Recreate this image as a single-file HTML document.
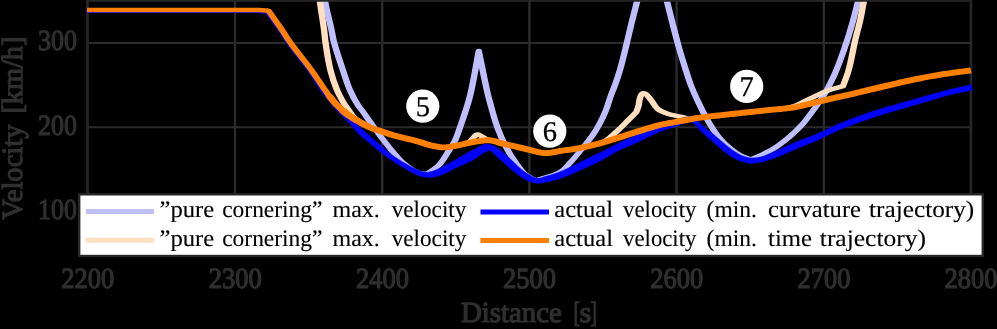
<!DOCTYPE html>
<html><head><meta charset="utf-8"><title>velocity profile</title>
<style>html,body{margin:0;padding:0;background:#000;}svg{display:block;font-family:"Liberation Serif",serif;}text{text-rendering:geometricPrecision;}</style></head><body>
<svg style="will-change:transform" width="997" height="329" viewBox="0 0 997 329">
<rect x="0" y="0" width="997" height="329" fill="#000"/>
<defs><clipPath id="pc"><rect x="86.5" y="0" width="885.6" height="256"/></clipPath></defs>
<line x1="235.0" y1="0" x2="235.0" y2="256" stroke="#2b2b2b" stroke-width="2.4"/>
<line x1="382.2" y1="0" x2="382.2" y2="256" stroke="#2b2b2b" stroke-width="2.4"/>
<line x1="529.4" y1="0" x2="529.4" y2="256" stroke="#2b2b2b" stroke-width="2.4"/>
<line x1="676.6" y1="0" x2="676.6" y2="256" stroke="#2b2b2b" stroke-width="2.4"/>
<line x1="823.8" y1="0" x2="823.8" y2="256" stroke="#2b2b2b" stroke-width="2.4"/>
<line x1="87.5" y1="42.9" x2="970.9" y2="42.9" stroke="#2b2b2b" stroke-width="2.0"/>
<line x1="87.5" y1="127.3" x2="970.9" y2="127.3" stroke="#2b2b2b" stroke-width="2.0"/>
<line x1="87.5" y1="0" x2="87.5" y2="256" stroke="#262626" stroke-width="2.7"/>
<line x1="970.9" y1="0" x2="970.9" y2="256" stroke="#262626" stroke-width="2.7"/>
<g clip-path="url(#pc)">
<path transform="scale(1.420,1)" d="M228.59 -3.00C228.69 -1.67 228.72 -0.33 228.87 1.00C229.98 10.72 232.01 20.32 233.45 30.00C234.00 33.66 234.34 37.36 235.00 41.00C236.80 50.91 239.24 60.70 241.55 70.50C243.09 77.02 244.41 83.61 246.41 90.00C248.11 95.44 250.05 100.83 252.46 106.00C253.11 107.39 254.00 108.65 254.72 110.00C257.08 114.44 259.20 119.01 261.48 123.50C263.94 128.35 266.37 133.21 268.94 138.00C271.38 142.54 273.82 147.09 276.48 151.50C278.84 155.41 281.07 159.44 283.94 163.00C286.16 165.74 288.59 168.38 291.41 170.50C292.95 171.66 294.66 172.67 296.48 173.30C297.83 173.77 299.30 173.77 300.70 174.00C303.52 171.00 306.81 168.39 309.15 165.00C311.79 161.18 313.35 156.72 315.28 152.50C317.17 148.38 319.16 144.29 320.63 140.00C322.08 135.80 322.96 131.42 324.01 127.10C326.38 117.44 328.84 107.79 330.63 98.00C333.48 82.44 335.00 66.67 337.18 51.00C339.34 65.67 341.21 80.38 343.66 95.00C344.00 97.01 344.39 99.00 344.79 101.00C346.51 109.72 348.00 118.49 350.21 127.10C351.94 133.82 353.91 140.50 356.34 147.00C358.37 152.46 360.73 157.81 363.38 163.00C365.49 167.13 367.37 171.51 370.42 175.00C372.38 177.24 375.12 178.67 377.46 180.50C383.17 177.67 389.70 176.09 394.58 172.00C397.75 169.34 399.67 165.45 401.97 162.00C404.56 158.12 406.83 154.04 409.15 150.00C412.01 145.05 414.95 140.13 417.46 135.00C419.22 131.42 420.76 127.73 422.18 124.00C423.85 119.63 425.34 115.19 426.62 110.70C428.09 105.53 429.01 100.21 430.35 95.00C431.12 92.02 432.06 89.08 432.82 86.10C434.25 80.49 435.59 74.86 436.76 69.20C438.26 61.97 439.44 54.68 440.70 47.40C442.07 39.51 443.28 31.59 444.65 23.70C445.96 16.12 447.39 8.57 448.73 1.00C448.97 -0.33 449.20 -1.67 449.44 -3.00" fill="none" stroke="#bfbfff" stroke-width="4.50" stroke-linejoin="round" stroke-linecap="butt"/>
<path transform="scale(1.420,1)" d="M469.01 -3.00C469.23 -1.67 469.42 -0.33 469.65 1.00C470.92 8.58 472.29 16.14 473.66 23.70C475.10 31.61 476.52 39.52 478.10 47.40C479.42 54.02 480.85 60.61 482.32 67.20C483.65 73.15 484.89 79.12 486.48 85.00C487.98 90.55 489.73 96.04 491.55 101.50C493.63 107.72 495.75 113.93 498.24 120.00C500.62 125.81 502.97 131.67 506.13 137.10C508.48 141.14 511.25 144.95 514.30 148.50C516.43 151.00 518.70 153.45 521.34 155.40C523.64 157.10 526.36 158.13 528.87 159.50C533.85 156.17 539.21 153.35 543.80 149.50C548.24 145.79 552.12 141.43 555.85 137.00C559.09 133.14 562.09 129.06 564.79 124.80C567.94 119.83 570.56 114.54 573.24 109.30C576.09 103.71 578.93 98.10 581.34 92.30C583.75 86.48 585.75 80.50 587.68 74.50C588.90 70.70 589.96 66.85 590.99 63.00C593.01 55.44 594.88 47.83 596.62 40.20C598.15 33.53 599.52 26.82 600.85 20.10C602.10 13.75 603.22 7.37 604.37 1.00C604.61 -0.33 604.84 -1.67 605.07 -3.00" fill="none" stroke="#bfbfff" stroke-width="4.50" stroke-linejoin="round" stroke-linecap="butt"/>
<path transform="scale(1.420,1)" d="M225.07 -3.00C225.16 -1.50 225.23 0.00 225.35 1.50C226.13 11.02 227.39 20.49 228.24 30.00C228.57 33.66 228.72 37.34 229.08 41.00C230.07 50.86 231.00 60.75 232.75 70.50C233.92 77.07 235.45 83.59 237.32 90.00C238.32 93.39 239.57 96.70 240.85 100.00C241.50 101.69 242.19 103.36 242.96 105.00C243.83 106.87 244.85 108.66 245.77 110.50C246.73 112.39 247.44 114.42 248.59 116.20C249.86 118.16 251.33 120.01 253.03 121.60C255.60 124.02 258.60 125.96 261.62 127.80C264.20 129.37 267.00 130.57 269.72 131.90C271.98 133.00 274.22 134.14 276.55 135.10C282.33 137.48 288.42 139.08 294.23 141.40C297.13 142.56 299.84 144.22 302.82 145.20C306.02 146.25 309.31 147.39 312.68 147.40C315.99 147.41 319.19 146.16 322.39 145.30C324.82 144.65 327.18 143.77 329.58 143.00C330.16 142.33 330.75 141.67 331.34 141.00C332.16 139.67 332.85 138.25 333.80 137.00C334.49 136.09 335.00 134.67 336.13 134.50C337.12 134.35 337.90 135.44 338.73 136.00C340.46 137.15 341.82 138.85 343.66 139.80C345.19 140.59 346.98 140.69 348.59 141.30C349.87 141.78 351.05 142.50 352.32 143.00C355.54 144.25 358.91 145.11 362.18 146.20C365.88 147.43 369.52 148.83 373.24 150.00C376.80 151.12 380.28 152.94 384.01 153.10C387.60 153.25 391.06 151.73 394.58 151.00C399.21 150.04 403.89 149.26 408.45 148.00C413.27 146.67 418.18 145.40 422.68 143.20C424.14 142.48 425.55 141.59 426.76 140.50C430.10 137.49 432.62 133.67 435.35 130.10C437.84 126.85 440.11 123.45 442.46 120.10C444.36 117.41 446.22 114.70 448.10 112.00C448.62 110.00 449.24 108.03 449.65 106.00C450.21 103.19 450.00 100.23 450.85 97.50C451.31 95.97 451.37 93.40 452.96 93.20C455.48 92.89 456.45 96.91 457.89 99.00C460.11 102.25 460.84 106.51 463.52 109.40C465.44 111.47 468.07 112.81 470.63 114.00C473.30 115.25 476.26 115.75 479.08 116.60C481.36 117.28 483.55 118.43 485.92 118.60C488.33 118.78 490.71 117.96 493.10 117.60C497.80 116.89 502.49 116.05 507.18 115.30C511.90 114.55 516.62 113.83 521.34 113.10C525.49 112.46 529.65 111.83 533.80 111.20C537.14 110.70 540.47 110.21 543.80 109.70C547.04 109.21 550.36 109.06 553.52 108.20C555.96 107.54 558.33 106.59 560.56 105.40C563.07 104.07 565.26 102.20 567.61 100.60C570.56 98.59 573.46 96.51 576.48 94.60C579.13 92.92 581.76 91.18 584.58 89.80C587.50 88.37 590.63 87.40 593.66 86.20C594.79 81.77 596.04 77.36 597.04 72.90C597.58 70.51 598.04 68.11 598.45 65.70C599.91 57.23 600.88 48.68 602.25 40.20C603.34 33.49 604.73 26.82 605.77 20.10C606.76 13.75 607.50 7.36 608.38 1.00C608.57 -0.33 608.76 -1.67 608.94 -3.00" fill="none" stroke="#ffdfbf" stroke-width="4.50" stroke-linejoin="round" stroke-linecap="butt"/>
<path transform="scale(1.420,1)" d="M61.27 10.70L66.41 10.70L71.55 10.70L76.69 10.70L81.83 10.69L86.97 10.69L92.11 10.69L97.25 10.69L102.40 10.69L107.54 10.70L112.68 10.70L117.96 10.70L123.24 10.71L128.52 10.71L133.80 10.71L139.08 10.72L144.37 10.72L149.65 10.73L154.93 10.75L160.21 10.77L165.49 10.80L167.32 10.80L169.16 10.79L170.99 10.78L172.82 10.76L174.65 10.75L176.48 10.76L178.31 10.77L180.14 10.82L181.97 10.89L183.80 11.00L184.26 11.04L184.72 11.09L185.18 11.14L185.63 11.20L186.09 11.27L186.55 11.33L187.01 11.40L187.46 11.47L187.92 11.54L188.38 11.60L189.35 13.51L190.33 15.41L191.32 17.31L192.30 19.21L193.28 21.11L194.26 23.02L195.23 24.93L196.20 26.84L197.15 28.76L198.10 30.70L198.62 31.79L199.13 32.89L199.63 33.99L200.12 35.10L200.62 36.21L201.12 37.32L201.62 38.43L202.13 39.53L202.64 40.62L203.17 41.70L204.67 44.65L206.21 47.57L207.78 50.47L209.36 53.34L210.95 56.20L212.54 59.07L214.12 61.94L215.69 64.83L217.23 67.75L218.73 70.70L219.68 72.64L220.60 74.60L221.51 76.59L222.40 78.58L223.29 80.58L224.18 82.57L225.07 84.56L225.99 86.53L226.92 88.48L227.89 90.40L228.78 92.12L229.69 93.82L230.60 95.51L231.53 97.19L232.47 98.86L233.42 100.51L234.38 102.15L235.35 103.78L236.33 105.40L237.32 107.00L238.20 108.39L239.09 109.76L239.99 111.12L240.90 112.47L241.82 113.81L242.75 115.14" fill="none" stroke="#0000ff" stroke-width="4.50" stroke-linejoin="round" stroke-linecap="round"/>
<path d="M340.00 106.60C342.40 108.93 344.86 111.20 347.20 113.60C351.35 117.86 355.04 122.55 359.30 126.70C363.17 130.48 367.42 133.85 371.50 137.40C374.96 140.41 378.38 143.47 381.90 146.40C386.20 149.98 390.42 153.68 395.00 156.90C398.90 159.65 403.06 162.02 407.20 164.40C410.08 166.05 412.94 167.79 416.00 169.10C419.03 170.40 422.11 171.93 425.40 172.20C427.96 172.41 430.54 171.74 433.00 171.00C436.72 169.89 440.13 167.93 443.60 166.20C447.75 164.12 451.75 161.76 455.80 159.50C459.88 157.23 463.90 154.84 468.00 152.60C470.32 151.33 472.65 150.11 475.00 148.90C477.85 147.43 480.53 145.51 483.60 144.60C485.56 144.02 487.67 144.13 489.70 143.90C492.20 145.17 494.87 146.15 497.20 147.70C501.61 150.63 505.35 154.47 509.30 158.00C513.45 161.70 517.16 165.92 521.50 169.40C524.18 171.54 526.98 173.57 530.00 175.20C532.38 176.49 534.80 178.09 537.50 178.30C540.34 178.52 543.06 177.05 545.80 176.30C549.63 175.25 553.47 174.18 557.20 172.80C561.57 171.18 565.79 169.18 570.00 167.20C573.88 165.37 577.64 163.28 581.50 161.40C587.53 158.46 593.67 155.73 599.70 152.80C602.92 151.24 606.10 149.61 609.30 148.00C612.87 146.21 616.40 144.34 620.00 142.60C625.69 139.84 631.36 137.02 637.20 134.60C641.17 132.96 645.25 131.63 649.30 130.20C653.35 128.77 657.47 127.49 661.50 126.00C665.57 124.49 669.56 122.79 673.60 121.20C675.63 120.40 677.63 119.50 679.70 118.80C681.77 118.10 683.87 117.50 686.00 117.00C687.75 116.59 689.53 116.33 691.30 116.00C693.53 117.73 695.85 119.36 698.00 121.20C699.92 122.84 701.60 124.74 703.50 126.40C706.98 129.44 710.73 132.16 714.30 135.10C718.41 138.49 722.29 142.15 726.50 145.40C730.40 148.41 734.29 151.52 738.60 153.90C740.94 155.19 743.44 156.24 746.00 157.00C747.79 157.53 749.64 157.97 751.50 158.00C755.34 158.06 759.20 157.32 762.90 156.30C765.37 155.62 767.64 154.38 770.00 153.40C773.34 152.02 776.69 150.66 780.00 149.20C784.57 147.18 789.00 144.84 793.60 142.90C801.62 139.52 810.00 137.03 818.00 133.60C824.52 130.80 830.68 127.19 837.20 124.40C845.16 120.99 853.33 118.07 861.50 115.20C869.54 112.37 877.65 109.77 885.80 107.30C892.16 105.37 898.60 103.71 905.00 101.90C913.47 99.51 921.92 97.04 930.40 94.70C936.59 92.99 942.76 91.23 949.00 89.70C956.63 87.83 964.33 86.30 972.00 84.60L972.00 90.20C964.33 91.83 956.60 93.19 949.00 95.10C942.74 96.67 936.60 98.70 930.40 100.50C921.93 102.96 913.46 105.41 905.00 107.90C898.60 109.78 892.18 111.62 885.80 113.60C877.67 116.13 869.54 118.67 861.50 121.50C853.33 124.37 845.16 127.28 837.20 130.70C830.67 133.51 824.49 137.10 818.00 140.00C809.97 143.58 801.70 146.58 793.60 150.00C789.05 151.92 784.59 154.06 780.00 155.90C776.70 157.22 773.37 158.46 770.00 159.60C767.65 160.40 765.32 161.26 762.90 161.80C759.16 162.64 755.34 163.34 751.50 163.40C749.66 163.43 747.81 163.18 746.00 162.80C743.47 162.27 740.96 161.56 738.60 160.50C734.30 158.57 730.33 155.94 726.50 153.20C722.17 150.10 718.35 146.35 714.30 142.90C710.68 139.82 706.92 136.89 703.50 133.60C701.56 131.74 699.91 129.59 698.00 127.70C695.85 125.58 693.53 123.63 691.30 121.60C689.53 122.07 687.75 122.47 686.00 123.00C683.87 123.65 681.82 124.53 679.70 125.20C677.69 125.83 675.62 126.28 673.60 126.90C669.53 128.16 665.47 129.45 661.50 131.00C657.36 132.62 653.33 134.51 649.30 136.40C645.22 138.31 641.29 140.51 637.20 142.40C631.54 145.02 625.60 147.04 620.00 149.80C616.33 151.61 612.87 153.80 609.30 155.80C606.10 157.60 602.97 159.53 599.70 161.20C593.75 164.24 587.58 166.82 581.50 169.60C577.67 171.35 573.89 173.19 570.00 174.80C565.79 176.54 561.56 178.29 557.20 179.60C553.47 180.72 549.64 181.51 545.80 182.20C543.05 182.69 540.29 183.41 537.50 183.30C534.95 183.20 532.41 182.56 530.00 181.70C527.00 180.62 524.18 179.03 521.50 177.30C517.14 174.48 513.27 170.96 509.30 167.60C505.16 164.09 501.24 160.32 497.20 156.70C494.70 154.46 492.20 152.23 489.70 150.00C487.67 150.97 485.56 151.78 483.60 152.90C480.60 154.61 477.97 156.92 475.00 158.70C472.74 160.06 470.37 161.24 468.00 162.40C463.99 164.36 459.83 165.99 455.80 167.90C451.69 169.85 447.82 172.30 443.60 174.00C440.17 175.38 436.66 176.74 433.00 177.30C430.50 177.68 427.91 177.68 425.40 177.30C422.16 176.81 419.03 175.65 416.00 174.40C412.94 173.14 410.09 171.41 407.20 169.80C403.07 167.51 398.96 165.17 395.00 162.60C390.51 159.69 386.14 156.57 381.90 153.30C378.32 150.54 374.96 147.51 371.50 144.60C367.43 141.18 363.13 138.00 359.30 134.30C354.97 130.12 351.33 125.28 347.20 120.90C344.85 118.41 342.40 116.03 340.00 113.60Z" fill="#0000ff" stroke="#0000ff" stroke-width="0.4" stroke-linejoin="round"/>
<path transform="scale(1.420,1)" d="M61.27 10.00L66.41 10.00L71.55 10.00L76.69 10.00L81.83 10.00L86.97 10.00L92.11 10.00L97.25 10.00L102.40 10.00L107.54 10.00L112.68 10.00L117.96 10.00L123.24 9.99L128.52 9.98L133.80 9.97L139.08 9.97L144.37 9.96L149.65 9.96L154.93 9.97L160.21 9.98L165.49 10.00L167.39 10.00L169.30 10.00L171.20 9.98L173.10 9.97L175.00 9.97L176.90 9.97L178.81 9.99L180.71 10.04L182.61 10.10L184.51 10.20L184.97 10.23L185.42 10.27L185.88 10.32L186.34 10.37L186.80 10.42L187.25 10.48L187.71 10.53L188.17 10.59L188.63 10.65L189.08 10.70L190.04 12.63L190.99 14.55L191.95 16.48L192.91 18.40L193.86 20.32L194.82 22.25L195.77 24.18L196.72 26.11L197.66 28.05L198.59 30.00L199.11 31.09L199.61 32.19L200.11 33.30L200.61 34.41L201.11 35.52L201.61 36.63L202.11 37.73L202.62 38.83L203.13 39.92L203.66 41.00L205.16 43.96L206.70 46.88L208.25 49.78L209.83 52.66L211.41 55.53L213.00 58.40L214.58 61.27L216.15 64.16L217.70 67.06L219.23 70.00L219.72 70.99L220.22 71.98L220.71 72.98L221.19 73.98L221.68 74.98L222.16 75.98L222.64 76.99L223.12 77.99L223.60 79.00L224.08 80.00L224.73 81.34L225.37 82.69L226.01 84.04L226.65 85.39L227.28 86.74L227.93 88.08L228.57 89.43L229.23 90.76L229.89 92.09L230.56 93.40L231.08 94.38L231.59 95.37L232.11 96.35L232.63 97.32" fill="none" stroke="#ff7f00" stroke-width="4.50" stroke-linejoin="round" stroke-linecap="butt"/>
<path transform="scale(1.420,1)" d="M232.11 96.35L232.63 97.32L233.16 98.29L233.69 99.25L234.23 100.21L234.78 101.15L235.34 102.08L235.92 103.00L236.32 103.63L236.74 104.25L237.16 104.87L237.58 105.47L238.01 106.07L238.45 106.66L238.89 107.25L239.33 107.84L239.77 108.42L240.21 109.00L240.63 109.54L241.05 110.08L241.46 110.62L241.89 111.15" fill="none" stroke="#ff7f00" stroke-width="5.20" stroke-linejoin="round" stroke-linecap="round"/>
<path transform="scale(1.420,1)" d="M241.05 110.08L241.46 110.62L241.89 111.15L242.31 111.68L242.74 112.21L243.17 112.72L243.61 113.23L244.06 113.72L244.51 114.20L245.32 115.03L246.15 115.85L246.99 116.64L247.84 117.42L248.69 118.18L249.55 118.92L250.41 119.66L251.28 120.38L252.15 121.09L253.03 121.80L253.87 122.47L254.71 123.14L255.56 123.80L256.41 124.44L257.26 125.08L258.12 125.70L258.99 126.31L259.86 126.89L260.74 127.46L261.62 128.00L262.41 128.46L263.21 128.89L264.02 129.29L264.83 129.68L265.64 130.06L266.46 130.43L267.27 130.79L268.09 131.15L268.91 131.52L269.72 131.90L270.40 132.23L271.08 132.56L271.76 132.89L272.44 133.22L273.12 133.55L273.81 133.87L274.49 134.19L275.17 134.51L275.86 134.81L276.55 135.10L278.30 135.80L280.07 136.45L281.83 137.08L283.61 137.68L285.38 138.28L287.16 138.87L288.93 139.47L290.70 140.08L292.47 140.72L294.23 141.40L295.09 141.76L295.95 142.14L296.80 142.54L297.66 142.96L298.51 143.37L299.36 143.77L300.22 144.17L301.08 144.54L301.94 144.89L302.82 145.20L303.79 145.52L304.77 145.84L305.75 146.15L306.73 146.43L307.71 146.70L308.70 146.93L309.69 147.12L310.69 147.27L311.68 147.36L312.68 147.40L313.66 147.37L314.63 147.27L315.61 147.11L316.58 146.91L317.55 146.67L318.52 146.40L319.49 146.13L320.46 145.84L321.43 145.56L322.39 145.30L323.28 145.06L324.16 144.80L325.04 144.53L325.92 144.24L326.80 143.96L327.67 143.67L328.55 143.39L329.43 143.11L330.31 142.85L331.20 142.60L332.07 142.37L332.95 142.14L333.83 141.92L334.71 141.70L335.59 141.49L336.47 141.29L337.35 141.10L338.23 140.92L339.12 140.75L340.00 140.60L340.38 140.54L340.76 140.47L341.14 140.41L341.52 140.35L341.90 140.29L342.28 140.25L342.66 140.21L343.04 140.19L343.42 140.19L343.80 140.20L344.29 140.24L344.77 140.30L345.25 140.38L345.73 140.47L346.21 140.59L346.69 140.71L347.17 140.84L347.65 140.99L348.12 141.14L348.59 141.30L348.97 141.44L349.35 141.59L349.72 141.76L350.09 141.94L350.46 142.13L350.83 142.31L351.20 142.50L351.57 142.68L351.95 142.84L352.32 143.00L353.30 143.37L354.28 143.71L355.27 144.04L356.25 144.36L357.24 144.66L358.23 144.96L359.22 145.26L360.21 145.57L361.20 145.88L362.18 146.20L363.29 146.57L364.39 146.96L365.50 147.34L366.60 147.73L367.71 148.12L368.81 148.51L369.92 148.90L371.02 149.27L372.13 149.64L373.24 150.00L374.31 150.36L375.38 150.74L376.45 151.14L377.52 151.53L378.60 151.91L379.67 152.27L380.75 152.57L381.83 152.82L382.92 153.00L384.01 153.10L385.08 153.10L386.14 153.01L387.20 152.85L388.25 152.64L389.31 152.38L390.36 152.10L391.42 151.80L392.47 151.51L393.52 151.24L394.58 151.00L395.97 150.72L397.36 150.44L398.75 150.17L400.14 149.90L401.53 149.62L402.92 149.33L404.30 149.03L405.69 148.71L407.07 148.37L408.45 148.00L409.88 147.59L411.31 147.17L412.74 146.72L414.17 146.26L415.59 145.78L417.01 145.29L418.43 144.79L419.85 144.27L421.26 143.74L422.68 143.20L424.10 142.64L425.51 142.07L426.92 141.47L428.33 140.86L429.74 140.24L431.14 139.62L432.55 138.99L433.95 138.35L435.36 137.72L436.76 137.10L438.18 136.47L439.59 135.83L441.01 135.18L442.42 134.53L443.83 133.88L445.25 133.23L446.66 132.59L448.08 131.95L449.50 131.32L450.92 130.70L452.30 130.10L453.68 129.50L455.06 128.89L456.44 128.29L457.82 127.70L459.21 127.12L460.60 126.56L461.99 126.01L463.39 125.49L464.79 125.00L466.19 124.54L467.59 124.12L468.99 123.71L470.40 123.33L471.81 122.97L473.22 122.61L474.64 122.26L476.05 121.92L477.46 121.56L478.87 121.20L480.29 120.82L481.71 120.44L483.13 120.06L484.55 119.68L485.98 119.31L487.40 118.94L488.82 118.58L490.24 118.24L491.67 117.91L493.10 117.60L494.50 117.32L495.91 117.06L497.32 116.82L498.72 116.59L500.13 116.37L501.54 116.15L502.95 115.94L504.36 115.73L505.77 115.52L507.18 115.30L508.60 115.08L510.01 114.85L511.43 114.63L512.85 114.41L514.26 114.19L515.68 113.97L517.09 113.76L518.51 113.54L519.92 113.32L521.34 113.10L522.58 112.91L523.83 112.72L525.08 112.53L526.32 112.34L527.57 112.15L528.82 111.96L530.06 111.77L531.31 111.58L532.56 111.39L533.80 111.20L534.80 111.05L535.80 110.90L536.80 110.74L537.80 110.59L538.80 110.44L539.80 110.29L540.80 110.14L541.80 109.99L542.80 109.84L543.80 109.70L544.77 109.57L545.75 109.44L546.72 109.32L547.69 109.20L548.66 109.08L549.64 108.96L550.61 108.83L551.58 108.70L552.55 108.56L553.52 108.40L554.23 108.28L554.93 108.16L555.64 108.04L556.34 107.92L557.05 107.79L557.75 107.65L558.46 107.50L559.16 107.35L559.86 107.18L560.56 107.00L561.42 106.77L562.26 106.51L563.11 106.24L563.96 105.96L564.80 105.68L565.64 105.38L566.48 105.08L567.33 104.78L568.17 104.49L569.01 104.20L570.07 103.84L571.13 103.49L572.18 103.13L573.24 102.77L574.30 102.40L575.35 102.04L576.41 101.68L577.46 101.32L578.52 100.96L579.58 100.60L580.53 100.28L581.49 99.95L582.45 99.63L583.41 99.30L584.36 98.98L585.32 98.66L586.28 98.34L587.24 98.02L588.20 97.71L589.15 97.40L590.10 97.10L591.04 96.81L591.99 96.52L592.93 96.24L593.88 95.95L594.82 95.67L595.76 95.39L596.71 95.10L597.65 94.80L598.59 94.50L599.72 94.13L600.85 93.74L601.98 93.36L603.10 92.96L604.23 92.57L605.35 92.17L606.48 91.77L607.60 91.38L608.73 90.99L609.86 90.60L611.36 90.09L612.86 89.58L614.35 89.08L615.85 88.58L617.35 88.08L618.85 87.58L620.35 87.08L621.86 86.59L623.36 86.09L624.86 85.60L626.79 84.97L628.71 84.33L630.64 83.69L632.57 83.05L634.49 82.42L636.42 81.79L638.35 81.17L640.28 80.57L642.22 79.97L644.15 79.40L646.07 78.85L647.99 78.31L649.91 77.78L651.83 77.26L653.75 76.76L655.67 76.26L657.60 75.78L659.52 75.31L661.45 74.85L663.38 74.40L665.42 73.95L667.45 73.52L669.50 73.10L671.54 72.71L673.58 72.32L675.63 71.94L677.67 71.56L679.71 71.18L681.76 70.79L683.80 70.40" fill="none" stroke="#ff7f00" stroke-width="5.90" stroke-linejoin="round" stroke-linecap="butt"/>
</g>
<line x1="86.4" y1="0.8" x2="972.0" y2="0.8" stroke="#262626" stroke-width="1.8"/>
<circle cx="422.8" cy="106.2" r="16.6" fill="#fff"/>
<text x="422.8" y="115.6" font-size="28.5" fill="#000" stroke="#000" stroke-width="0.30" text-anchor="middle" >5</text>
<circle cx="549.8" cy="131.2" r="16.6" fill="#fff"/>
<text x="549.8" y="140.6" font-size="28.5" fill="#000" stroke="#000" stroke-width="0.30" text-anchor="middle" >6</text>
<circle cx="746.7" cy="86.4" r="16.6" fill="#fff"/>
<text x="746.7" y="95.8" font-size="28.5" fill="#000" stroke="#000" stroke-width="0.30" text-anchor="middle" >7</text>
<text x="77.1" y="50.3" font-size="29.2" fill="#2f2f2f" stroke="#2f2f2f" stroke-width="1.20" text-anchor="end" textLength="39.0" lengthAdjust="spacingAndGlyphs" >300</text>
<text x="77.1" y="134.7" font-size="29.2" fill="#2f2f2f" stroke="#2f2f2f" stroke-width="1.20" text-anchor="end" textLength="39.0" lengthAdjust="spacingAndGlyphs" >200</text>
<text x="77.1" y="219.1" font-size="29.2" fill="#2f2f2f" stroke="#2f2f2f" stroke-width="1.20" text-anchor="end" textLength="39.0" lengthAdjust="spacingAndGlyphs" >100</text>
<text x="87.7" y="288.2" font-size="29.2" fill="#2f2f2f" stroke="#2f2f2f" stroke-width="1.20" text-anchor="middle" textLength="53.0" lengthAdjust="spacingAndGlyphs" >2200</text>
<text x="235.2" y="288.2" font-size="29.2" fill="#2f2f2f" stroke="#2f2f2f" stroke-width="1.20" text-anchor="middle" textLength="53.0" lengthAdjust="spacingAndGlyphs" >2300</text>
<text x="382.4" y="288.2" font-size="29.2" fill="#2f2f2f" stroke="#2f2f2f" stroke-width="1.20" text-anchor="middle" textLength="53.0" lengthAdjust="spacingAndGlyphs" >2400</text>
<text x="529.6" y="288.2" font-size="29.2" fill="#2f2f2f" stroke="#2f2f2f" stroke-width="1.20" text-anchor="middle" textLength="53.0" lengthAdjust="spacingAndGlyphs" >2500</text>
<text x="676.8" y="288.2" font-size="29.2" fill="#2f2f2f" stroke="#2f2f2f" stroke-width="1.20" text-anchor="middle" textLength="53.0" lengthAdjust="spacingAndGlyphs" >2600</text>
<text x="824.0" y="288.2" font-size="29.2" fill="#2f2f2f" stroke="#2f2f2f" stroke-width="1.20" text-anchor="middle" textLength="53.0" lengthAdjust="spacingAndGlyphs" >2700</text>
<text x="971.1" y="288.2" font-size="29.2" fill="#2f2f2f" stroke="#2f2f2f" stroke-width="1.20" text-anchor="middle" textLength="53.0" lengthAdjust="spacingAndGlyphs" >2800</text>
<text x="461.0" y="322.2" font-size="29.2" fill="#2f2f2f" stroke="#2f2f2f" stroke-width="1.20" text-anchor="start" textLength="100.8" lengthAdjust="spacingAndGlyphs" >Distance</text>
<text x="573.6" y="322.2" font-size="29.2" fill="#2f2f2f" stroke="#2f2f2f" stroke-width="1.20" text-anchor="start" textLength="6.4" lengthAdjust="spacingAndGlyphs" >[</text>
<text x="579.4" y="322.2" font-size="29.2" fill="#2f2f2f" stroke="#2f2f2f" stroke-width="1.20" text-anchor="start" textLength="11.8" lengthAdjust="spacingAndGlyphs" >s</text>
<text x="590.4" y="322.2" font-size="29.2" fill="#2f2f2f" stroke="#2f2f2f" stroke-width="1.20" text-anchor="start" textLength="6.4" lengthAdjust="spacingAndGlyphs" >]</text>
<g transform="translate(22.0,0) rotate(-90)"><text x="-219.8" y="0.0" font-size="29.2" fill="#2f2f2f" stroke="#2f2f2f" stroke-width="1.20" text-anchor="start" textLength="95.4" lengthAdjust="spacingAndGlyphs" >Velocity</text><text x="-113.6" y="0.0" font-size="29.2" fill="#2f2f2f" stroke="#2f2f2f" stroke-width="1.20" text-anchor="start" textLength="77.0" lengthAdjust="spacingAndGlyphs" >[km/h]</text></g>
<rect x="79.2" y="194.3" width="903.6" height="61.7" fill="#fff" stroke="#262626" stroke-width="2.4"/>
<line x1="86.0" y1="211.5" x2="154.0" y2="211.5" stroke="#bfbfff" stroke-width="5"/>
<line x1="86.0" y1="240.2" x2="154.0" y2="240.2" stroke="#ffdfbf" stroke-width="5"/>
<line x1="480.5" y1="211.9" x2="549.0" y2="211.9" stroke="#0000ff" stroke-width="5"/>
<line x1="480.5" y1="240.4" x2="549.0" y2="240.4" stroke="#ff7f00" stroke-width="5"/>
<text x="159.5" y="217.1" font-size="23.6" fill="#000" stroke="#000" stroke-width="0.12" text-anchor="start" textLength="54.7" lengthAdjust="spacingAndGlyphs" >”pure</text>
<text x="222.2" y="217.1" font-size="23.6" fill="#000" stroke="#000" stroke-width="0.12" text-anchor="start" textLength="100.3" lengthAdjust="spacingAndGlyphs" >cornering”</text>
<text x="332.5" y="217.1" font-size="23.6" fill="#000" stroke="#000" stroke-width="0.12" text-anchor="start" textLength="47.3" lengthAdjust="spacingAndGlyphs" >max.</text>
<text x="391.7" y="217.1" font-size="23.6" fill="#000" stroke="#000" stroke-width="0.12" text-anchor="start" textLength="74.7" lengthAdjust="spacingAndGlyphs" >velocity</text>
<text x="554.3" y="217.1" font-size="23.6" fill="#000" stroke="#000" stroke-width="0.12" text-anchor="start" textLength="58.7" lengthAdjust="spacingAndGlyphs" >actual</text>
<text x="623.1" y="217.1" font-size="23.6" fill="#000" stroke="#000" stroke-width="0.12" text-anchor="start" textLength="73.3" lengthAdjust="spacingAndGlyphs" >velocity</text>
<text x="706.6" y="217.1" font-size="23.6" fill="#000" stroke="#000" stroke-width="0.12" text-anchor="start" textLength="50.3" lengthAdjust="spacingAndGlyphs" >(min.</text>
<text x="159.5" y="245.7" font-size="23.6" fill="#000" stroke="#000" stroke-width="0.12" text-anchor="start" textLength="54.7" lengthAdjust="spacingAndGlyphs" >”pure</text>
<text x="222.2" y="245.7" font-size="23.6" fill="#000" stroke="#000" stroke-width="0.12" text-anchor="start" textLength="100.3" lengthAdjust="spacingAndGlyphs" >cornering”</text>
<text x="332.5" y="245.7" font-size="23.6" fill="#000" stroke="#000" stroke-width="0.12" text-anchor="start" textLength="47.3" lengthAdjust="spacingAndGlyphs" >max.</text>
<text x="391.7" y="245.7" font-size="23.6" fill="#000" stroke="#000" stroke-width="0.12" text-anchor="start" textLength="74.7" lengthAdjust="spacingAndGlyphs" >velocity</text>
<text x="554.3" y="245.7" font-size="23.6" fill="#000" stroke="#000" stroke-width="0.12" text-anchor="start" textLength="58.7" lengthAdjust="spacingAndGlyphs" >actual</text>
<text x="623.1" y="245.7" font-size="23.6" fill="#000" stroke="#000" stroke-width="0.12" text-anchor="start" textLength="73.3" lengthAdjust="spacingAndGlyphs" >velocity</text>
<text x="706.6" y="245.7" font-size="23.6" fill="#000" stroke="#000" stroke-width="0.12" text-anchor="start" textLength="50.3" lengthAdjust="spacingAndGlyphs" >(min.</text>
<text x="768.1" y="217.1" font-size="23.6" fill="#000" stroke="#000" stroke-width="0.12" text-anchor="start" textLength="92.9" lengthAdjust="spacingAndGlyphs" >curvature</text>
<text x="869.0" y="217.1" font-size="23.6" fill="#000" stroke="#000" stroke-width="0.12" text-anchor="start" textLength="105.3" lengthAdjust="spacingAndGlyphs" >trajectory)</text>
<text x="768.1" y="245.7" font-size="23.6" fill="#000" stroke="#000" stroke-width="0.12" text-anchor="start" textLength="43.9" lengthAdjust="spacingAndGlyphs" >time</text>
<text x="819.8" y="245.7" font-size="23.6" fill="#000" stroke="#000" stroke-width="0.12" text-anchor="start" textLength="106.2" lengthAdjust="spacingAndGlyphs" >trajectory)</text>
</svg></body></html>
